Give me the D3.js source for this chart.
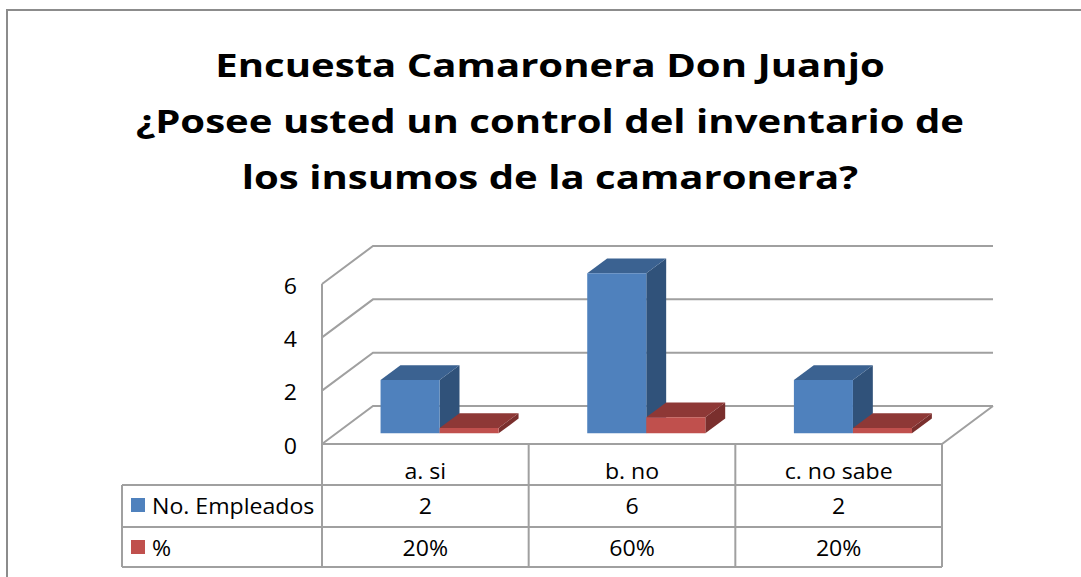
<!DOCTYPE html>
<html>
<head>
<meta charset="utf-8">
<script src="https://cdn.jsdelivr.net/npm/d3@7"></script>
<style>
  body { margin: 0; background: #fff; }
  svg { display: block; }
  text { font-family: "Open Sans", Lato, sans-serif; fill: #000; }
</style>
</head>
<body>
<div id="chart"></div>
<script>
var titleLines = [
  "Encuesta Camaronera Don Juanjo",
  "¿Posee usted un control del inventario de",
  "los insumos de la camaronera?"
];
var categories = ["a. si", "b. no", "c. no sabe"];
var seriesNames = ["No. Empleados", "%"];
var empleados = [2, 6, 2];
var porcentaje = [0.2, 0.6, 0.2];
var porcentajeLabels = ["20%", "60%", "20%"];
var yTicks = [0, 2, 4, 6];

var width = 1081, height = 577;

var colors = {
  "No. Empleados": { front: "#4f81bd", top: "#3b6291", side: "#30527a" },
  "%": { front: "#c0504d", top: "#8e3836", side: "#7a2f2d" }
};

// the original text is drawn a bit wider than the fonts we have
var titleStretch = 1.235, textStretch = 1.1;

var svg = d3.select('#chart').append('svg')
    .attr('width', width)
    .attr('height', height);

function place(sel, fx, fy, sx) {
  sel.attr('transform', function (d, i) {
    return 'translate(' + fx(d, i) + ',' + fy(d, i) + ') scale(' + sx + ',1)';
  });
}

// outer frame, runs off the right and bottom of the picture
svg.append('rect')
    .attr('x', 7).attr('y', 10)
    .attr('width', 1200).attr('height', 700)
    .attr('fill', 'none')
    .attr('stroke', '#8c8c8c')
    .attr('stroke-width', 2);

// title
var title = svg.append('g').selectAll('text').data(titleLines)
  .enter().append('text')
    .attr('text-anchor', 'middle')
    .style('font-size', '32.5px')
    .style('font-weight', 'bold')
    .text(function (d) { return d; });
place(title, function () { return 550; }, function (d, i) { return 77 + i * 56; }, titleStretch);

// 3d plot area
var plotLeft = 322, plotRight = 942;
var depthX = 51, depthY = -38;

var yScale = d3.scaleLinear()
    .domain([0, 6])
    .range([444, 284]);

var xScale = d3.scaleBand()
    .domain(categories)
    .range([plotLeft, plotRight]);

var sScale = d3.scaleBand()
    .domain(seriesNames)
    .range([0, xScale.bandwidth()])
    .paddingOuter(0.75);

var zScale = d3.scaleLinear().domain([0, 1]).range([0, 1]);

function proj(x, v, z) {
  return [x + zScale(z) * depthX, yScale(v) + zScale(z) * depthY];
}

function poly(pts) {
  return pts.map(function (p) { return p.join(','); }).join(' ');
}

var grid = svg.append('g')
    .attr('fill', 'none')
    .attr('stroke', '#a0a0a0')
    .attr('stroke-width', 2);

// back wall lines and left wall diagonals
yTicks.forEach(function (t) {
  var a = proj(plotLeft, t, 0), b = proj(plotLeft, t, 1), c = proj(plotRight, t, 1);
  grid.append('polyline').attr('points', poly([a, b, c]));
});
// left wall front edge
grid.append('line')
    .attr('x1', plotLeft).attr('x2', plotLeft)
    .attr('y1', yScale(6)).attr('y2', yScale(0));
// floor front and right edge
grid.append('polyline')
    .attr('points', poly([proj(plotLeft, 0, 0), proj(plotRight, 0, 0), proj(plotRight, 0, 1)]));

var tfont = '21px';

// y axis labels
var yLabels = svg.append('g').selectAll('text').data(yTicks)
  .enter().append('text')
    .attr('text-anchor', 'end')
    .style('font-size', tfont)
    .text(function (d) { return d; });
place(yLabels, function () { return 297; }, function (d) { return yScale(d) + 9.5; }, textStretch);

// bars
var z0 = 0.28, z1 = 0.67;
var barData = [];
categories.forEach(function (c, i) {
  barData.push({ cat: c, series: "No. Empleados", value: empleados[i] });
  barData.push({ cat: c, series: "%", value: porcentaje[i] });
});

var bars = svg.append('g').selectAll('g').data(barData)
  .enter().append('g');

bars.each(function (d) {
  var g = d3.select(this);
  var x0 = xScale(d.cat) + sScale(d.series);
  var x1 = x0 + sScale.bandwidth();
  var col = colors[d.series];
  // side face
  g.append('polygon')
      .attr('points', poly([proj(x1, 0, z0), proj(x1, d.value, z0), proj(x1, d.value, z1), proj(x1, 0, z1)]))
      .attr('fill', col.side);
  // top face
  g.append('polygon')
      .attr('points', poly([proj(x0, d.value, z0), proj(x1, d.value, z0), proj(x1, d.value, z1), proj(x0, d.value, z1)]))
      .attr('fill', col.top);
  // front face
  g.append('polygon')
      .attr('points', poly([proj(x0, 0, z0), proj(x1, 0, z0), proj(x1, d.value, z0), proj(x0, d.value, z0)]))
      .attr('fill', col.front);
});

// data table
var tableLeft = 122, rowTops = [444, 485, 527, 567];
var table = svg.append('g')
    .attr('fill', 'none')
    .attr('stroke', '#a0a0a0')
    .attr('stroke-width', 2);

[1, 2, 3].forEach(function (r) {
  table.append('line')
      .attr('x1', tableLeft).attr('x2', plotRight)
      .attr('y1', rowTops[r]).attr('y2', rowTops[r]);
});
table.append('line')
    .attr('x1', tableLeft).attr('x2', tableLeft)
    .attr('y1', rowTops[1]).attr('y2', rowTops[3]);
table.selectAll('line.col').data(categories.concat(['end']))
  .enter().append('line')
    .attr('class', 'col')
    .attr('x1', function (d) { return d === 'end' ? plotRight : xScale(d); })
    .attr('x2', function (d) { return d === 'end' ? plotRight : xScale(d); })
    .attr('y1', rowTops[0]).attr('y2', rowTops[3]);

function colCenter(i) {
  return xScale(categories[i]) + xScale.bandwidth() / 2;
}

var catLabels = svg.append('g').selectAll('text').data(categories)
  .enter().append('text')
    .attr('text-anchor', 'middle')
    .style('font-size', tfont)
    .text(function (d) { return d; });
place(catLabels, function (d, i) { return colCenter(i); }, function () { return 479; }, textStretch);

var rows = [
  { name: seriesNames[0], labels: empleados.map(String), y: rowTops[1] },
  { name: seriesNames[1], labels: porcentajeLabels, y: rowTops[2] }
];

rows.forEach(function (r) {
  svg.append('rect')
      .attr('x', 131).attr('y', r.y + 13)
      .attr('width', 14).attr('height', 14)
      .attr('fill', colors[r.name].front);
  var name = svg.append('text')
      .style('font-size', tfont)
      .text(r.name);
  place(name, function () { return 152; }, function () { return r.y + 28.5; }, textStretch);
  var cells = svg.append('g').selectAll('text').data(r.labels)
    .enter().append('text')
      .attr('text-anchor', 'middle')
      .style('font-size', tfont)
      .text(function (d) { return d; });
  place(cells, function (d, i) { return colCenter(i); }, function () { return r.y + 28.5; }, textStretch);
});
</script>
</body>
</html>
